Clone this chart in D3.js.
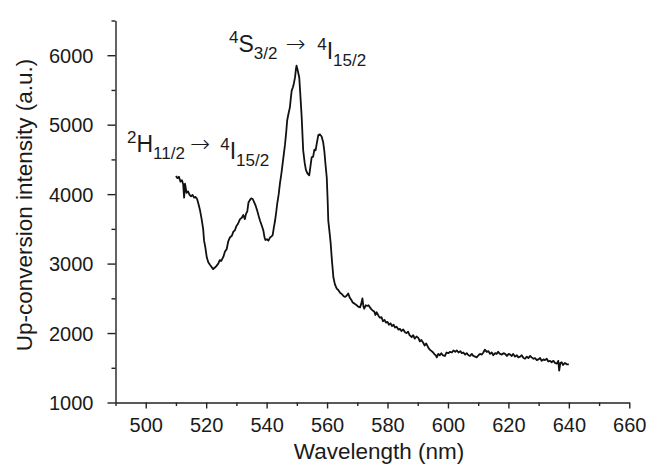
<!DOCTYPE html>
<html lang="en">
  <head>
    <meta charset="UTF-8" />
    <title>Up-conversion spectrum</title>
    <style>
      body { margin: 0; background: #fff; }
      svg text { font-family: "Liberation Sans", Arial, Helvetica, sans-serif; fill: #1a1a1a; }
      .line { fill: none; stroke: #111; stroke-width: 1.8; stroke-linejoin: round; }
      .axis path, .axis line { stroke: #222; stroke-width: 1.4; }
      svg text tspan.arrow { font-family: "DejaVu Sans", sans-serif; }
    </style>
  </head>
  <body>
    <svg id="container" width="660" height="474"></svg>
  </body>
  <script src="https://cdn.jsdelivr.net/npm/d3@7"></script>
  <script>
    // spectrum
    let wavelength = [
      510.0, 510.5, 511.0, 511.5, 512.0, 512.4, 512.7, 513.0, 513.5, 514.0,
      514.5, 515.0, 515.5, 516.0, 516.5, 517.0, 517.5, 518.0, 518.5, 519.0,
      519.3, 519.7, 520.2, 520.7, 521.3, 521.8, 522.3, 522.8, 523.3, 524.0,
      524.5, 525.0, 525.7, 526.2, 526.8, 527.3, 527.9, 528.5, 529.0, 529.5,
      530.0, 530.5, 531.2, 531.8, 532.3, 532.8, 533.2, 533.6, 534.0, 534.4,
      534.9, 535.4, 535.9, 536.4, 536.9, 537.4, 537.8, 538.3, 538.9, 539.3,
      539.6, 540.1, 540.6, 541.2, 541.6, 542.0, 542.4, 542.8, 543.2, 543.5,
      544.0, 544.4, 544.9, 545.3, 545.7, 546.1, 546.5, 546.8, 547.2, 547.7,
      548.0, 548.3, 548.7, 549.0, 549.4, 549.7, 549.9, 550.3, 550.8, 551.2,
      551.6, 552.1, 552.6, 553.0, 553.5, 554.1, 554.5, 554.9, 555.4, 555.8,
      556.2, 556.6, 557.1, 557.6, 558.2, 558.7, 559.1, 559.5, 559.9, 560.2,
      560.4, 560.8, 561.2, 561.6, 562.1, 562.6, 563.2, 563.7, 564.3, 564.9,
      565.5, 566.0, 566.5, 567.0, 567.5, 568.0, 568.5, 569.2, 569.8, 570.3,
      570.9, 571.3, 571.7, 572.0, 572.3, 572.8, 573.3, 573.7, 574.2, 574.7,
      575.2, 575.6, 576.0, 576.4, 577.0, 577.5, 578.0, 578.5, 579.0, 579.5,
      580.0, 580.5, 581.0, 581.5, 582.0, 582.5, 583.0, 583.6, 584.1, 584.6,
      585.2, 585.8, 586.3, 586.8, 587.3, 588.0, 588.5, 589.0, 589.6, 590.2,
      590.7, 591.2, 591.8, 592.3, 592.8, 593.5, 594.0, 594.6, 595.1, 595.6,
      596.0, 596.3, 596.8, 597.3, 597.8, 598.3, 599.0, 599.5, 600.1, 600.7,
      601.3, 601.8, 602.4, 602.9, 603.5, 604.1, 604.6, 605.1, 605.7, 606.2,
      606.8, 607.3, 607.9, 608.4, 609.0, 609.5, 610.1, 610.6, 611.2, 611.7,
      612.2, 612.8, 613.4, 613.9, 614.5, 615.0, 615.6, 616.1, 616.6, 617.2,
      617.8, 618.4, 618.9, 619.5, 620.1, 620.6, 621.1, 621.6, 622.2, 622.8,
      623.3, 623.9, 624.4, 625.0, 625.5, 626.1, 626.6, 627.2, 627.7, 628.3,
      628.8, 629.4, 629.9, 630.5, 631.0, 631.6, 632.1, 632.7, 633.2, 633.8,
      634.3, 634.9, 635.4, 636.0, 636.5, 636.8, 637.2, 637.6, 638.1, 638.7,
      639.3, 640.0
    ];
    let intensity = [
      4260, 4230, 4250, 4180, 4200, 4140, 3950, 4150, 4020, 4040,
      3990, 3970, 3990, 3950, 3960, 3930, 3850, 3760, 3640, 3500,
      3330, 3240, 3090, 3020, 2980, 2950, 2920, 2940, 2960, 3000,
      3050, 3040, 3100, 3170, 3210, 3320, 3380, 3400, 3460, 3480,
      3540, 3570, 3640, 3660, 3700, 3640, 3720, 3750, 3880, 3910,
      3940, 3930, 3880, 3830, 3760, 3680, 3620, 3560, 3480, 3380,
      3340, 3350, 3330, 3380, 3390, 3410, 3520, 3620, 3750, 3860,
      4000, 4150, 4300, 4440, 4580, 4720, 4900, 5060, 5150, 5250,
      5380, 5490, 5540, 5590, 5680, 5800, 5850, 5780, 5680, 5400,
      5110, 4630, 4450, 4350, 4300, 4270, 4400, 4530, 4540, 4640,
      4630, 4730, 4850, 4860, 4830, 4750, 4620, 4420, 4240, 3900,
      3620, 3460, 3290, 3050, 2800, 2700, 2640, 2620, 2580, 2560,
      2530, 2520, 2540, 2570, 2510, 2480, 2440, 2420, 2400, 2380,
      2370, 2420, 2500, 2390, 2350, 2400, 2390, 2400, 2370, 2340,
      2320, 2310, 2260, 2300, 2250, 2220, 2230, 2170, 2190, 2150,
      2160, 2120, 2140, 2100, 2120, 2080, 2090, 2050, 2060, 2030,
      2050, 2010, 2000, 2020, 1970, 1940, 1970, 1920, 1950, 1930,
      1880, 1900, 1860, 1820, 1850, 1790, 1760, 1740, 1720, 1690,
      1680, 1650, 1700, 1680, 1710, 1680, 1670, 1720, 1710, 1730,
      1720, 1750, 1730, 1750, 1720, 1740, 1710, 1720, 1690, 1710,
      1680, 1670, 1700, 1670, 1660, 1650, 1680, 1700, 1690, 1720,
      1760, 1730, 1740, 1700, 1720, 1680, 1710, 1700, 1730, 1700,
      1690, 1710, 1700, 1670, 1700, 1690, 1670, 1700, 1660, 1680,
      1650, 1660, 1680, 1640, 1630, 1660, 1640, 1670, 1650, 1630,
      1640, 1610, 1620, 1640, 1600, 1620, 1610, 1630, 1590, 1600,
      1580, 1600, 1570, 1560, 1600, 1460, 1570, 1580, 1540, 1570,
      1550, 1550
    ];

    // axis ticks
    let xMajor = [500, 520, 540, 560, 580, 600, 620, 640, 660];
    let xMinor = [490, 510, 530, 550, 570, 590, 610, 630, 650];
    let yMajor = [1000, 2000, 3000, 4000, 5000, 6000];
    let yMinor = [1500, 2500, 3500, 4500, 5500, 6500];

    let svg = d3.select("#container");

    let xScale = d3.scaleLinear().domain([490, 660]).range([115.5, 629.3]);
    let yScale = d3.scaleLinear().domain([1000, 6500]).range([402.5, 20.5]);

    // x axis
    let xAxis = svg.append("g").attr("class", "axis")
      .attr("transform", "translate(0," + yScale(1000) + ")");
    xAxis.call(d3.axisBottom(xScale).tickValues(xMajor).tickSize(6).tickPadding(9).tickSizeOuter(0))
    xAxis.append("g").call(d3.axisBottom(xScale).tickValues(xMinor).tickSize(3.5).tickFormat("").tickSizeOuter(0))
      .select(".domain").remove();
    xAxis.selectAll("text").attr("font-size", 20).attr("font-family", null);

    // y axis
    let yAxis = svg.append("g").attr("class", "axis")
      .attr("transform", "translate(" + xScale(490) + ",0)");
    yAxis.call(d3.axisLeft(yScale).tickValues(yMajor).tickSize(8).tickPadding(14)
      .tickFormat(d3.format("d")).tickSizeOuter(0))
    yAxis.append("g").call(d3.axisLeft(yScale).tickValues(yMinor).tickSize(4).tickFormat("").tickSizeOuter(0))
      .select(".domain").remove();
    yAxis.selectAll("text").attr("font-size", 20).attr("font-family", null).attr("dy", "0.36em");

    // axis titles
    svg.append("text").attr("x", 379).attr("y", 459)
      .attr("text-anchor", "middle").attr("font-size", 22.5)
      .text("Wavelength (nm)");
    svg.append("text")
      .attr("transform", "translate(32,205) rotate(-90)")
      .attr("text-anchor", "middle").attr("font-size", 22.5)
      .text("Up-conversion intensity (a.u.)");

    // spectrum
    let points = wavelength.map((w, i) => ({ w: w, v: intensity[i] }));
    let valueLine = d3.line().x(d => xScale(d.w)).y(d => yScale(d.v));
    svg.append("path").datum(points).attr("d", valueLine).attr("class", "line");

    // transition labels
    function label(x, y, gap, parts) {
      let t = svg.append("text").attr("x", x).attr("y", y).attr("font-size", 23);
      parts.forEach(p => {
        let s = t.append("tspan").text(p[0]);
        if (p[1] == "sup") s.attr("font-size", 17).attr("dy", -9);
        if (p[1] == "sub") s.attr("font-size", 17).attr("dy", 7);
        if (p[1] == "base") s.attr("dy", 9);
        if (p[1] == "arrow") s.attr("class", "arrow").attr("font-size", 24).attr("dy", -7)
          .attr("dx", gap).attr("font-weight", 300);
        if (p[1] == "sup2") s.attr("font-size", 17).attr("dy", -2).attr("dx", gap / 2);
      });
    }
    label(127, 151.5, 5, [["2", "sup"], ["H", "base"], ["11/2", "sub"], ["\u2192 ", "arrow"],
      ["4", "sup2"], ["I", "base"], ["15/2", "sub"]]);
    label(229, 51.5, 8, [["4", "sup"], ["S", "base"], ["3/2", "sub"], ["\u2192 ", "arrow"],
      ["4", "sup2"], ["I", "base"], ["15/2", "sub"]]);
  </script>
</html>
